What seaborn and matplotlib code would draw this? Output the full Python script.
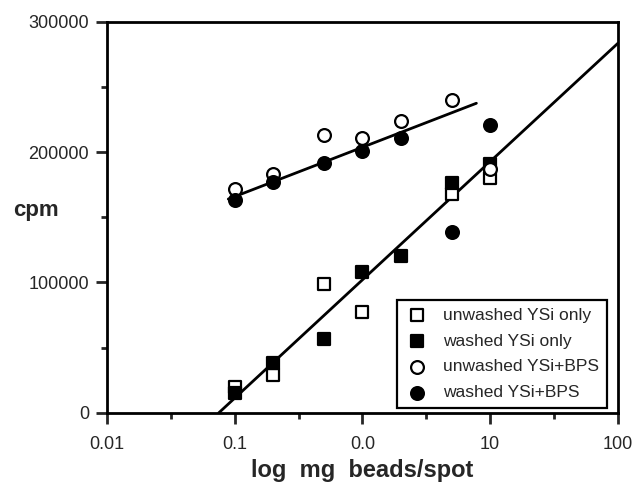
import numpy as np
import pandas as pd
import seaborn as sns
from matplotlib import pyplot as plt
from matplotlib.ticker import FixedLocator, FixedFormatter

# bead amounts (mg/spot)
dose = [0.1, 0.2, 0.5, 1.0, 2.0, 5.0, 10.0]

# cpm
unwashed_ysi = [20000, 29000, 99000, 77000, np.nan, 168000, 180000]
washed_ysi = [15000, 38000, 57000, 108000, 120000, 176000, 191000]
unwashed_bps = [172000, 183000, 213000, 211000, 224000, 240000, 187000]
washed_bps = [163000, 177000, 192000, 201000, 211000, 139000, 221000]

# fitted lines (end points)
fit_low_x = [0.075, 100]
fit_low_y = [0, 283500]
fit_high_x = [0.089, 7.8]
fit_high_y = [164000, 237500]

xticks = [0.01, 0.1, 1, 10, 100]
xticklabels = ['0.01', '0.1', '0.0', '10', '100']
yticks = [0, 100000, 200000, 300000]

sns.set_style('ticks')
plt.rcParams['font.family'] = ['Liberation Sans', 'DejaVu Sans']

fig = plt.figure(figsize=(6.37, 4.84), dpi=100)
ax = fig.add_axes([0.168, 0.147, 0.802, 0.808])

sns.lineplot(x=fit_low_x, y=fit_low_y, color='black', linewidth=2, ax=ax)
sns.lineplot(x=fit_high_x, y=fit_high_y, color='black', linewidth=2, ax=ax)

series = [
    ('unwashed YSi only', unwashed_ysi, 's', 'white'),
    ('washed YSi only', washed_ysi, 's', 'black'),
    ('unwashed YSi+BPS', unwashed_bps, 'o', 'white'),
    ('washed YSi+BPS', washed_bps, 'o', 'black'),
]
for label, vals, marker, face in series:
    df = pd.DataFrame({'dose': dose, 'cpm': vals}).dropna()
    sns.scatterplot(data=df, x='dose', y='cpm', marker=marker, s=85,
                    facecolor=face, edgecolor='black', linewidth=1.6,
                    label=label, ax=ax, zorder=3)

ax.set_xscale('log')
ax.set_xlim(0.01, 100)
ax.set_ylim(0, 300000)
ax.xaxis.set_major_locator(FixedLocator(xticks))
ax.xaxis.set_major_formatter(FixedFormatter(xticklabels))
ax.xaxis.set_minor_locator(FixedLocator([10 ** (k + 0.5) for k in range(-2, 2)]))
ax.yaxis.set_major_locator(FixedLocator(yticks))
ax.yaxis.set_minor_locator(FixedLocator([50000, 150000, 250000]))
ax.ticklabel_format(axis='y', style='plain')

for s in ax.spines.values():
    s.set_linewidth(2)
    s.set_color('black')
ax.tick_params(which='major', length=8, width=2, labelsize=13, pad=5)
ax.tick_params(axis='x', which='major', pad=9)
ax.tick_params(which='minor', length=4, width=2)

ax.set_xlabel('log  mg  beads/spot', fontsize=17, fontweight='bold', labelpad=4)
ax.set_ylabel('cpm', fontsize=16, fontweight='bold', rotation=0)
ax.yaxis.set_label_coords(-0.14, 0.49)

leg = ax.legend(loc='lower right', bbox_to_anchor=(0.978, 0.012), frameon=True,
                fancybox=False, edgecolor='black', fontsize=12.5,
                handletextpad=0.8, borderpad=0.45, labelspacing=0.62,
                handlelength=1.4, borderaxespad=0)
leg.get_frame().set_linewidth(1.6)
leg.get_frame().set_alpha(1)

fig.savefig('out.png', dpi=100)
